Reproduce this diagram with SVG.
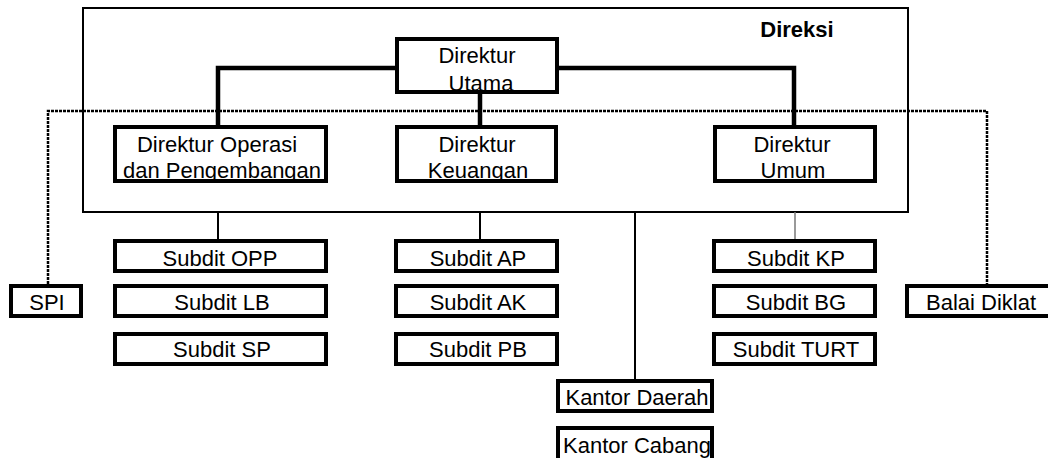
<svg xmlns="http://www.w3.org/2000/svg" width="1048" height="458" viewBox="0 0 1048 458">
<style>
text{font-family:"Liberation Sans",Arial,sans-serif;font-size:22px;fill:#000;text-anchor:middle}
.b{font-weight:bold}
.box{fill:#fff;stroke:#000;stroke-width:4}
.thick{fill:none;stroke:#000;stroke-width:4.5}
.thin{fill:none;stroke:#000;stroke-width:2}
.dot{fill:none;stroke:#000;stroke-width:2.5;stroke-dasharray:3 1}
</style>
<rect width="1048" height="458" fill="#fff"/>
<g id="direksi">
<rect x="83" y="8" width="825" height="204" fill="none" stroke="#000" stroke-width="2"/>
<text class="b" x="797" y="37">Direksi</text>
</g>
<g id="connectors">
<path class="dot" d="M48,284 V111 H987 V284"/>
<path class="thick" d="M218,127 V68 H397 M557,68 H794 V127 M480,93 V127"/>
<path class="thin" d="M218,212 V241 M480,212 V241 M635,212 V381"/>
<path d="M795,212 V241" fill="none" stroke="#777" stroke-width="1.5"/>
</g>
<g id="direktur-utama"><rect class="box" x="397" y="39" width="160" height="53"/><text x="477" y="63">Direktur</text><text x="481" y="91">Utama</text></g>
<g id="direktur-operasi"><rect class="box" x="115" y="127" width="211" height="54"/><text x="217" y="152">Direktur Operasi</text><text x="222" y="178">dan Pengembangan</text></g>
<g id="direktur-keuangan"><rect class="box" x="397" y="127" width="159" height="54"/><text x="477" y="152">Direktur</text><text x="478" y="178">Keuangan</text></g>
<g id="direktur-umum"><rect class="box" x="715" y="127" width="160" height="54"/><text x="792" y="152">Direktur</text><text x="793" y="178">Umum</text></g>
<g id="spi"><rect class="box" x="11" y="286" width="70" height="30"/><text x="47" y="310">SPI</text></g>
<g id="subdit-opp"><rect class="box" x="115" y="241" width="211" height="30"/><text x="220" y="266">Subdit OPP</text></g>
<g id="subdit-lb"><rect class="box" x="115" y="286" width="211" height="30"/><text x="222" y="310">Subdit LB</text></g>
<g id="subdit-sp"><rect class="box" x="115" y="334" width="211" height="30"/><text x="222" y="357">Subdit SP</text></g>
<g id="subdit-ap"><rect class="box" x="396" y="241" width="161" height="30"/><text x="478" y="266">Subdit AP</text></g>
<g id="subdit-ak"><rect class="box" x="396" y="286" width="161" height="30"/><text x="478" y="310">Subdit AK</text></g>
<g id="subdit-pb"><rect class="box" x="396" y="334" width="161" height="30"/><text x="478" y="357">Subdit PB</text></g>
<g id="subdit-kp"><rect class="box" x="714" y="241" width="161" height="30"/><text x="796" y="266">Subdit KP</text></g>
<g id="subdit-bg"><rect class="box" x="714" y="286" width="161" height="30"/><text x="796" y="310">Subdit BG</text></g>
<g id="subdit-turt"><rect class="box" x="714" y="334" width="161" height="30"/><text x="796" y="357">Subdit TURT</text></g>
<g id="balai-diklat"><rect class="box" x="907" y="286" width="150" height="30"/><text x="981" y="310">Balai Diklat</text></g>
<g id="kantor-daerah"><rect class="box" x="558" y="381" width="154" height="30"/><text x="637" y="405">Kantor Daerah</text></g>
<g id="kantor-cabang"><rect class="box" x="558" y="428" width="154" height="36"/><text x="637" y="453">Kantor Cabang</text></g>
</svg>
